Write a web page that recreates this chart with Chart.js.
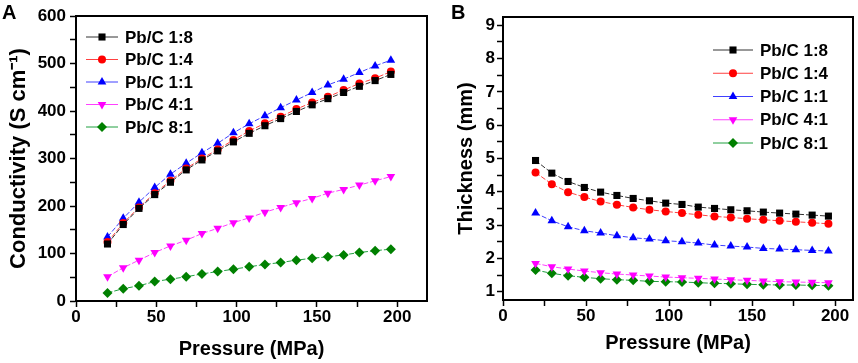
<!DOCTYPE html>
<html>
<head>
<meta charset="utf-8">
<script src="https://cdn.jsdelivr.net/npm/chart.js@4.4.0/dist/chart.umd.min.js"></script>
<style>
body { margin: 0; background: #fff; }
#wrap { position: relative; width: 858px; height: 363px; }
canvas { position: absolute; top: 0; }
</style>
</head>
<body>
<div id="wrap">
  <canvas id="chartA" width="432" height="363" style="left:0"></canvas>
  <canvas id="chartB" width="428" height="363" style="left:430px"></canvas>
</div>
<script>
// pressure points (MPa), shared by both panels
const pressure = [19.6, 29.4, 39.2, 49, 58.8, 68.6, 78.4, 88.2, 98, 107.8, 117.6, 127.4, 137.2, 147, 156.8, 166.6, 176.4, 186.2, 196];

const seriesNames = ['Pb/C 1:8', 'Pb/C 1:4', 'Pb/C 1:1', 'Pb/C 4:1', 'Pb/C 8:1'];

// panel A: conductivity (S cm-1)
const condA18 = [120, 161, 195, 224, 250, 276, 297, 316, 335, 353, 369, 384, 399, 413, 426, 439, 452, 464, 477];
const condA14 = [124, 164, 197, 227, 253, 279, 300, 319, 339, 358, 374, 388, 404, 418, 430, 444, 458, 469, 483];
const condA11 = [135, 174, 208, 239, 267, 290, 312, 332, 354, 373, 390, 407, 423, 439, 455, 467, 481, 495, 507];
const condA41 = [51, 70, 86, 102, 116, 128, 142, 153, 165, 175, 187, 197, 207, 216, 227, 235, 244, 253, 262];
const condA81 = [17, 26, 32, 41, 46, 51, 57, 62, 67, 72, 77, 81, 86, 90, 93, 97, 102, 106, 109];

// panel B: thickness (mm)
const thickB18 = [4.94, 4.56, 4.31, 4.13, 3.99, 3.89, 3.80, 3.73, 3.66, 3.62, 3.54, 3.50, 3.46, 3.43, 3.39, 3.36, 3.33, 3.30, 3.27];
const thickB14 = [4.58, 4.23, 3.99, 3.84, 3.71, 3.61, 3.53, 3.46, 3.41, 3.36, 3.31, 3.26, 3.23, 3.19, 3.16, 3.13, 3.10, 3.07, 3.04];
const thickB11 = [3.36, 3.13, 2.95, 2.83, 2.76, 2.68, 2.62, 2.58, 2.53, 2.50, 2.46, 2.40, 2.37, 2.34, 2.30, 2.28, 2.26, 2.24, 2.22];
const thickB41 = [1.85, 1.75, 1.68, 1.62, 1.57, 1.53, 1.50, 1.47, 1.44, 1.42, 1.40, 1.38, 1.36, 1.34, 1.32, 1.30, 1.29, 1.28, 1.27];
const thickB81 = [1.65, 1.55, 1.48, 1.43, 1.39, 1.36, 1.34, 1.31, 1.30, 1.29, 1.27, 1.25, 1.24, 1.22, 1.21, 1.20, 1.20, 1.19, 1.18];

// axis ticks
const xTicks = [0, 25, 50, 75, 100, 125, 150, 175, 200];
const yTicksA = [0, 50, 100, 150, 200, 250, 300, 350, 400, 450, 500, 550, 600];
const yTicksB = [1, 1.5, 2, 2.5, 3, 3.5, 4, 4.5, 5, 5.5, 6, 6.5, 7, 7.5, 8, 8.5, 9];

const FONT = "'Liberation Sans', Arial, sans-serif";
const styles = [
  { color: '#000000', line: '#333333', point: 'rect', radius: 5, rotation: 0 },
  { color: '#ff0000', line: '#ff4040', point: 'circle', radius: 4, rotation: 0 },
  { color: '#0000ff', line: '#4040ff', point: 'triangle', radius: 5, rotation: 0 },
  { color: '#ff00ff', line: '#ff40ff', point: 'triangle', radius: 5, rotation: 180 },
  { color: '#008000', line: '#20a040', point: 'rectRot', radius: 5, rotation: 0 },
];

function makeDatasets(seriesList) {
  return seriesList.map((vals, i) => ({
    label: seriesNames[i],
    data: vals.map((v, j) => ({ x: pressure[j], y: v })),
    borderColor: styles[i].line,
    backgroundColor: styles[i].color,
    pointBorderColor: styles[i].color,
    pointBackgroundColor: styles[i].color,
    pointStyle: styles[i].point,
    pointRadius: styles[i].radius,
    pointRotation: styles[i].rotation,
    pointBorderWidth: 0,
    borderWidth: 1,
    borderDash: [5, 2],
    tension: 0,
  }));
}

// box round the plot, panel letter and legend
const framePlugin = {
  id: 'frame',
  afterDraw(chart, args, opts) {
    const ctx = chart.ctx;
    const a = chart.chartArea;
    ctx.save();
    ctx.strokeStyle = '#000';
    ctx.lineWidth = 2;
    ctx.strokeRect(a.left, a.top, a.right - a.left, a.bottom - a.top);

    ctx.fillStyle = '#000';
    ctx.font = 'bold 20px ' + FONT;
    ctx.textBaseline = 'alphabetic';
    ctx.fillText(opts.letter, opts.letterX, 19);

    const lg = opts.legend;
    ctx.font = 'bold 17px ' + FONT;
    ctx.textBaseline = 'middle';
    chart.data.datasets.forEach((ds, i) => {
      const y = lg.y0 + i * lg.dy;
      ctx.strokeStyle = ds.borderColor;
      ctx.lineWidth = 1;
      ctx.setLineDash([]);
      ctx.beginPath();
      ctx.moveTo(lg.x0, y);
      ctx.lineTo(lg.x1, y);
      ctx.stroke();
      ctx.fillStyle = ds.pointBackgroundColor;
      ctx.strokeStyle = ds.pointBorderColor;
      Chart.helpers.drawPoint(ctx, {
        pointStyle: ds.pointStyle, radius: ds.pointRadius,
        rotation: ds.pointRotation, borderWidth: 0
      }, (lg.x0 + lg.x1) / 2, y);
      ctx.fillStyle = '#000';
      ctx.fillText(ds.label, lg.tx, y + 1);
    });
    ctx.restore();
  }
};

function axisTicks(values) {
  return scale => { scale.ticks = values.map(v => ({ value: v })); };
}

function buildOptions(cfg) {
  return {
    responsive: false,
    animation: false,
    layout: { padding: { top: cfg.padTop, right: cfg.padRight, left: 0, bottom: 0 } },
    plugins: {
      legend: { display: false },
      tooltip: { enabled: false },
      frame: cfg.frame,
    },
    scales: {
      x: {
        type: 'linear',
        min: 0,
        max: cfg.xMax,
        afterBuildTicks: axisTicks(xTicks),
        afterFit: s => { s.height = cfg.xHeight; },
        border: { color: '#000', width: 2 },
        grid: { drawOnChartArea: false, drawTicks: true, tickLength: 6, tickColor: '#000', tickWidth: 1.5 },
        ticks: {
          color: '#000', padding: 0, maxRotation: 0, autoSkip: false,
          font: { family: FONT, size: 17, weight: 'bold' },
          callback: v => (v % 50 === 0 ? String(v) : ''),
        },
        title: {
          display: true, text: 'Pressure (MPa)', color: '#000',
          font: { family: FONT, size: 20, weight: 'bold' },
          padding: { top: 0, bottom: cfg.xTitlePad },
        },
      },
      y: {
        type: 'linear',
        min: cfg.yMin,
        max: cfg.yMax,
        afterBuildTicks: axisTicks(cfg.yTicks),
        afterFit: s => { s.width = cfg.yWidth; },
        border: { color: '#000', width: 2 },
        grid: { drawOnChartArea: false, drawTicks: true, tickLength: 6, tickColor: '#000', tickWidth: 1.5 },
        ticks: {
          color: '#000', padding: cfg.yTickPad, autoSkip: false,
          font: { family: FONT, size: 17, weight: 'bold' },
          callback: cfg.yLabel,
        },
        title: {
          display: true, text: cfg.yTitle, color: '#000',
          font: { family: FONT, size: cfg.yTitleSize, weight: 'bold' },
          padding: { top: cfg.yTitlePad, bottom: 0 },
        },
      },
    },
  };
}

new Chart(document.getElementById('chartA').getContext('2d'), {
  type: 'line',
  data: { datasets: makeDatasets([condA18, condA14, condA11, condA41, condA81]) },
  options: buildOptions({
    padTop: 16, padRight: 2, xMax: 218.5, xHeight: 62, xTitlePad: 2,
    yMin: 0, yMax: 600, yTicks: yTicksA, yWidth: 76, yTickPad: 4,
    yLabel: v => (v % 100 === 0 ? String(v) : ''),
    yTitle: 'Conductivity (S cm\u207B\u00B9)', yTitleSize: 22, yTitlePad: 6,
    frame: { letter: 'A', letterX: 2, legend: { x0: 86, x1: 118, tx: 125, y0: 37, dy: 22.5 } },
  }),
  plugins: [framePlugin],
});

new Chart(document.getElementById('chartB').getContext('2d'), {
  type: 'line',
  data: { datasets: makeDatasets([thickB18, thickB14, thickB11, thickB41, thickB81]) },
  options: buildOptions({
    padTop: 17, padRight: 3, xMax: 210.8, xHeight: 63, xTitlePad: 8,
    yMin: 0.75, yMax: 9.25, yTicks: yTicksB, yWidth: 73, yTickPad: 2,
    yLabel: v => (Number.isInteger(v) ? String(v) : ''),
    yTitle: 'Thickness (mm)', yTitleSize: 20, yTitlePad: 24,
    frame: { letter: 'B', letterX: 21, legend: { x0: 283, x1: 323, tx: 330, y0: 50, dy: 23.25 } },
  }),
  plugins: [framePlugin],
});
</script>
</body>
</html>
